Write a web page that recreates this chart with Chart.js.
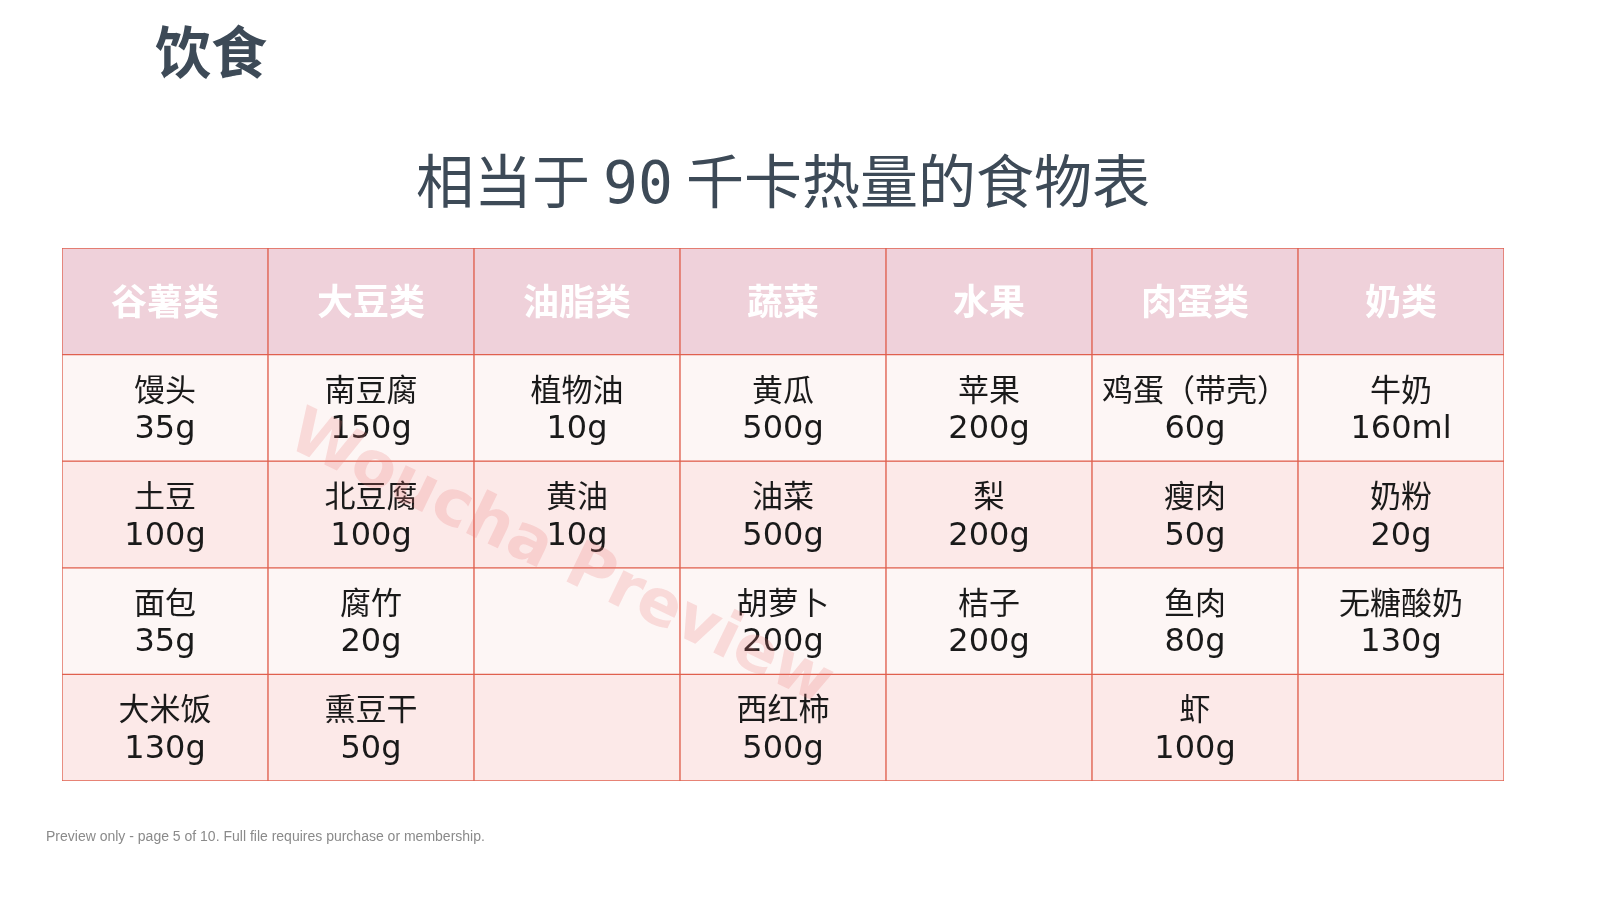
<!DOCTYPE html>
<html><head><meta charset="utf-8">
<script src="https://cdn.jsdelivr.net/npm/chart.js@4"></script>
<style>
html,body{margin:0;padding:0;background:#fff;width:1601px;height:900px;overflow:hidden;font-family:"Noto Sans CJK SC","Noto Sans",sans-serif}
#wrap{position:absolute;left:0;top:0;width:1601px;height:900px}
.t1{position:absolute;left:155px;top:8px;font-size:56px;font-weight:bold;color:#3d4a57}
.t2{position:absolute;left:0;width:1566px;top:136px;text-align:center;font-size:58px;color:#3d4a57}
.mono{font-family:"DejaVu Sans Mono",monospace}
.ft{position:absolute;left:46px;top:828px;font-size:14px;color:#8a8a8a;font-family:"Liberation Sans",Arial,sans-serif}
</style></head><body>
<div id="wrap"><canvas id="c" width="1601" height="900"></canvas></div>
<div class="t1">饮食</div>
<div class="t2">相当于 <span class="mono">90</span> 千卡热量的食物表</div>
<div class="ft">Preview only - page 5 of 10. Full file requires purchase or membership.</div>
<script>
const categories = ["谷薯类","大豆类","油脂类","蔬菜","水果","肉蛋类","奶类"];
const row1Names = ["馒头","南豆腐","植物油","黄瓜","苹果","鸡蛋（带壳）","牛奶"];
const row1Amounts = ["35g","150g","10g","500g","200g","60g","160ml"];
const row2Names = ["土豆","北豆腐","黄油","油菜","梨","瘦肉","奶粉"];
const row2Amounts = ["100g","100g","10g","500g","200g","50g","20g"];
const row3Names = ["面包","腐竹","","胡萝卜","桔子","鱼肉","无糖酸奶"];
const row3Amounts = ["35g","20g","","200g","200g","80g","130g"];
const row4Names = ["大米饭","熏豆干","","西红柿","","虾",""];
const row4Amounts = ["130g","50g","","500g","","100g",""];

const rowNames=[row1Names,row2Names,row3Names,row4Names];
const rowAmounts=[row1Amounts,row2Amounts,row3Amounts,row4Amounts];
const fills=["#efd1da","#fdf6f5","#fce9e8","#fdf6f5","#fce9e8"];
const datasets=[0,1,2,3,4].map(r=>({
  data:categories.map(()=>[r,r+1]),
  backgroundColor:fills[r],borderColor:"#e0604f",borderWidth:1,borderSkipped:false,
  barPercentage:1,categoryPercentage:1,grouped:false
}));
const textPlugin={id:"txt",afterDatasetsDraw(ch){
  const ctx=ch.ctx,x=ch.scales.x,y=ch.scales.y;
  ctx.save();ctx.textAlign="center";ctx.textBaseline="middle";
  categories.forEach((c,i)=>{
    const cx=x.getPixelForValue(i);
    ctx.fillStyle="#ffffff";ctx.font='bold 36px "Noto Sans CJK SC"';
    ctx.fillText(c,cx,y.getPixelForValue(0.5));
    for(let r=0;r<4;r++){
      const cy=y.getPixelForValue(r+1.5);
      ctx.fillStyle="#1a1a1a";
      ctx.font='31px "Noto Sans CJK SC"';
      ctx.fillText(rowNames[r][i],cx,cy-19);
      ctx.font='32px "DejaVu Sans"';
      ctx.fillText(rowAmounts[r][i],cx,cy+22);
    }
  });
  ctx.translate(560,560);ctx.rotate(0.45);
  ctx.fillStyle="rgba(235,120,120,0.22)";ctx.font='bold 64px "DejaVu Sans"';
  ctx.fillText("Woucha Preview",0,0);
  ctx.restore();
}};
new Chart(document.getElementById("c"),{
  type:"bar",
  data:{labels:categories,datasets},
  options:{responsive:false,animation:false,
    layout:{padding:{left:62,right:97,top:248,bottom:119}},
    plugins:{legend:{display:false},tooltip:{enabled:false}},
    scales:{x:{display:false},y:{display:false,min:0,max:5,reverse:true}}
  },
  plugins:[textPlugin]
});
</script>
</body></html>
